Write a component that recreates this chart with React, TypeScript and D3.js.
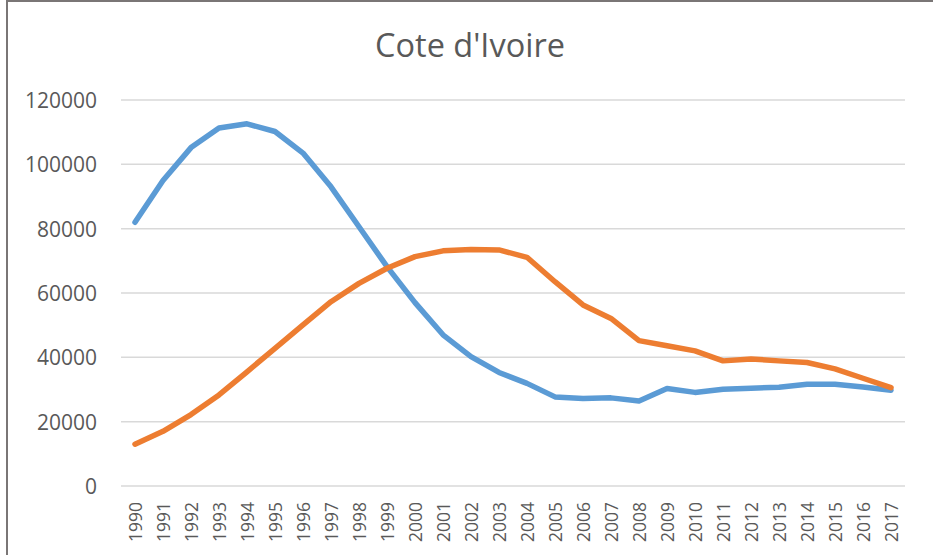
import * as d3 from "d3"

const years = [
  1990, 1991, 1992, 1993, 1994, 1995, 1996, 1997, 1998, 1999, 2000, 2001, 2002, 2003,
  2004, 2005, 2006, 2007, 2008, 2009, 2010, 2011, 2012, 2013, 2014, 2015, 2016, 2017,
]

const blueSeries = [
  82000, 95000, 105200, 111300, 112600, 110200, 103500, 93000, 80600, 68200, 57000, 47000,
  40200, 35300, 31900, 27700, 27200, 27400, 26400, 30300, 29100, 30100, 30400, 30700,
  31600, 31600, 30750, 29800,
]

const orangeSeries = [
  13000, 17000, 22200, 28300, 35500, 42800, 50100, 57300, 63000, 67700, 71300, 73100,
  73500, 73400, 71100, 63500, 56300, 52100, 45200, 43600, 42000, 38900, 39500, 38900,
  38400, 36400, 33500, 30600,
]

const yTicks = [0, 20000, 40000, 60000, 80000, 100000, 120000]

const W = 933
const H = 555
const PLOT = { left: 121, right: 905, top: 100, bottom: 486 }
const TEXT = "#595959"
const FONT = "'Open Sans', 'Liberation Sans', sans-serif"

const App = () => {
  const xScale = d3
    .scaleBand<number>()
    .domain(years)
    .range([PLOT.left, PLOT.right])

  const yScale = d3
    .scaleLinear()
    .domain([0, 120000])
    .range([PLOT.bottom, PLOT.top])

  const xPos = (yr: number) => xScale(yr)! + xScale.bandwidth() / 2

  const line = d3
    .line<number>()
    .x((_, i) => xPos(years[i]))
    .y((d) => yScale(d))

  const series = [
    { name: "blue", values: blueSeries, color: "#5B9BD5" },
    { name: "orange", values: orangeSeries, color: "#ED7D31" },
  ]

  return (
    <svg
      width={W}
      height={H}
      style={{ position: "absolute", left: 0, top: 0, background: "#fff" }}
      fontFamily={FONT}
    >
      {/* chart frame, cut off on the right and bottom */}
      <line x1={7} x2={W} y1={1} y2={1} stroke="#7a7676" strokeWidth={2} />
      <line x1={7} x2={7} y1={0} y2={H} stroke="#7a7676" strokeWidth={2} />

      <text x={470} y={57} textAnchor="middle" fontSize={32.5} fill={TEXT}>
        Cote d'Ivoire
      </text>

      {yTicks.map((t) => (
        <g key={t}>
          <line
            x1={PLOT.left}
            x2={PLOT.right}
            y1={yScale(t)}
            y2={yScale(t)}
            stroke="#D9D9D9"
            strokeWidth={1.5}
          />
          <text
            x={97}
            y={yScale(t)}
            textAnchor="end"
            dominantBaseline="central"
            fontSize={21}
            fill={TEXT}
          >
            {t}
          </text>
        </g>
      ))}

      {years.map((yr) => (
        <text
          key={yr}
          transform={`translate(${xPos(yr)},502) rotate(-90)`}
          textAnchor="end"
          dominantBaseline="central"
          fontSize={17.5}
          fill={TEXT}
        >
          {yr}
        </text>
      ))}

      {series.map((s) => (
        <path
          key={s.name}
          d={line(s.values) || ""}
          fill="none"
          stroke={s.color}
          strokeWidth={5.5}
          strokeLinejoin="round"
          strokeLinecap="round"
        />
      ))}
    </svg>
  )
}

export default App
